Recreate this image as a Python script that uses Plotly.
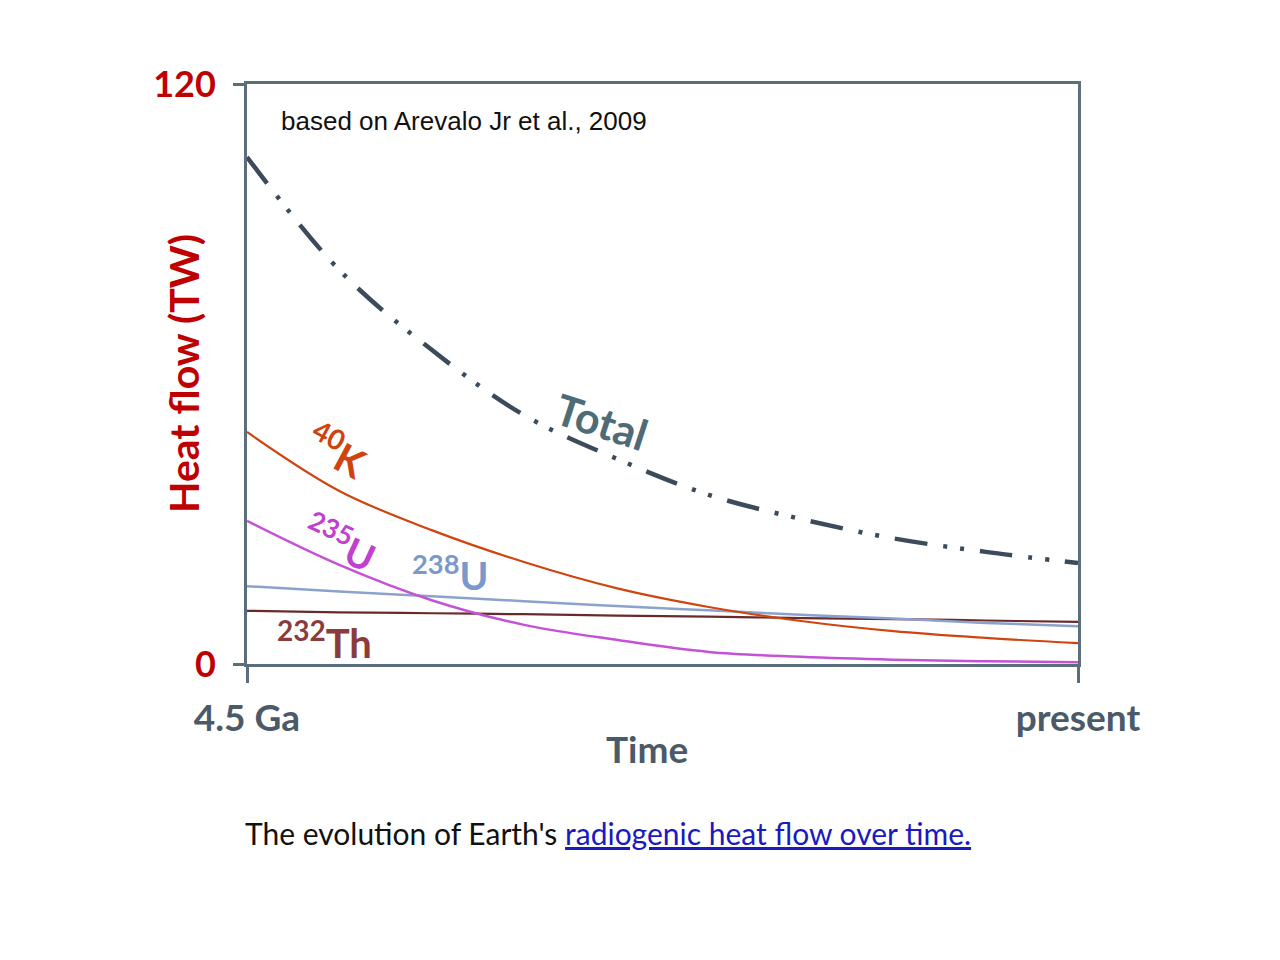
import plotly.graph_objects as go

# Time before present (Ga), 4.5 Ga -> present
time_ga = [4.5, 4.0, 3.5, 3.0, 2.5, 2.0, 1.5, 1.0, 0.5, 0.0]

# Heat flow (TW)
k40 = [48.0, 35.8, 27.7, 21.1, 15.7, 11.8, 8.9, 6.8, 5.4, 4.3]
u235 = [29.6, 20.5, 13.2, 8.1, 5.0, 2.5, 1.5, 0.9, 0.57, 0.35]
u238 = [16.1, 15.0, 14.0, 13.0, 12.0, 11.1, 10.2, 9.4, 8.5, 7.8]
th232 = [11.0, 10.7, 10.5, 10.3, 10.0, 9.8, 9.5, 9.3, 9.0, 8.7]
total = [104.9, 81.5, 65.0, 51.5, 42.5, 35.0, 30.0, 26.0, 23.2, 20.9]

x_tickvals = [4.5, 0.0]
x_ticktext = ["4.5 Ga", "present"]
y_tickvals = [0, 120]
y_ticktext = ["0", "120"]

AXIS_COLOR = "#5b6e7b"
RED = "#c00000"
SLATE = "#4a5a68"
FONT = "Lato"

fig = go.Figure()

fig.add_trace(go.Scatter(x=time_ga, y=th232, mode="lines", line=dict(color="#6b2a2a", width=2.2, shape="spline")))
fig.add_trace(go.Scatter(x=time_ga, y=u238, mode="lines", line=dict(color="#8aa2cc", width=2.5, shape="spline")))
fig.add_trace(go.Scatter(x=time_ga, y=u235, mode="lines", line=dict(color="#c552d6", width=2.5, shape="spline")))
fig.add_trace(go.Scatter(x=time_ga, y=k40, mode="lines", line=dict(color="#d0450f", width=2.2, shape="spline")))
fig.add_trace(go.Scatter(x=time_ga, y=total, mode="lines",
                         line=dict(color="#3b4b5b", width=4.5, shape="spline",
                                   dash="33px,16px,4px,13px,4px,16px")))

annotations = [
    dict(x=4.327, y=112.3, xref="x", yref="y", xanchor="left", yanchor="middle",
         text="based on Arevalo Jr et al., 2009", showarrow=False,
         font=dict(family="Liberation Sans", size=26, color="#111111")),
    dict(x=2.578, y=50.1, xref="x", yref="y", xanchor="center", yanchor="middle",
         text="<b>Total</b>", showarrow=False,
         textangle=18, font=dict(family=FONT, size=43, color="#4e6b78")),
    dict(x=4.013, y=44.3, xref="x", yref="y", xanchor="center", yanchor="middle",
         text="<b><sup>40</sup>K</b>", showarrow=False,
         textangle=28, font=dict(family=FONT, size=40, color="#d0430f")),
    dict(x=3.996, y=25.2, xref="x", yref="y", xanchor="center", yanchor="middle",
         text="<b><sup>235</sup>U</b>", showarrow=False,
         textangle=25, font=dict(family=FONT, size=38, color="#c040d0")),
    dict(x=3.401, y=19.0, xref="x", yref="y", xanchor="center", yanchor="middle",
         text="<b><sup>238</sup>U</b>", showarrow=False,
         font=dict(family=FONT, size=39, color="#7a98cc")),
    dict(x=4.078, y=5.0, xref="x", yref="y", xanchor="center", yanchor="middle",
         text="<b><sup>232</sup>Th</b>", showarrow=False,
         font=dict(family=FONT, size=40, color="#8b3b3b")),
    dict(x=-0.077, y=0.5, xref="paper", yref="paper", xanchor="center", yanchor="middle",
         text="<b>Heat flow (TW)</b>", showarrow=False,
         textangle=-90, font=dict(family=FONT, size=41, color=RED)),
    dict(x=0.481, y=-0.145, xref="paper", yref="paper", xanchor="center", yanchor="middle",
         text="<b>Time</b>", showarrow=False,
         font=dict(family=FONT, size=37, color=SLATE)),
    dict(x=0.434, y=-0.291, xref="paper", yref="paper", xanchor="center", yanchor="middle",
         text="The evolution of Earth's <span style='color:#1a1ac0'><u>radiogenic heat flow over time.</u></span>",
         showarrow=False, font=dict(family=FONT, size=30, color="#111111")),
]

fig.update_layout(
    width=1280, height=960,
    margin=dict(l=239, r=210, t=76, b=304),
    paper_bgcolor="white", plot_bgcolor="white",
    showlegend=False,
    annotations=annotations,
    xaxis=dict(range=[4.5, 0], tickvals=x_tickvals, ticktext=x_ticktext,
               showgrid=False, zeroline=False, showline=True, linecolor=AXIS_COLOR, linewidth=3,
               mirror=True, ticks="outside", ticklen=16, tickwidth=3, tickcolor=AXIS_COLOR,
               ticklabelstandoff=4,
               tickfont=dict(family=FONT, size=37, color=SLATE, weight="bold")),
    yaxis=dict(range=[0, 120], tickvals=y_tickvals, ticktext=y_ticktext,
               showgrid=False, zeroline=False, showline=True, linecolor=AXIS_COLOR, linewidth=3,
               mirror=True, ticks="outside", ticklen=11, tickwidth=3, tickcolor=AXIS_COLOR,
               ticklabelstandoff=10,
               tickfont=dict(family=FONT, size=36, color=RED, weight="bold")),
)

fig.write_html("out.html")
